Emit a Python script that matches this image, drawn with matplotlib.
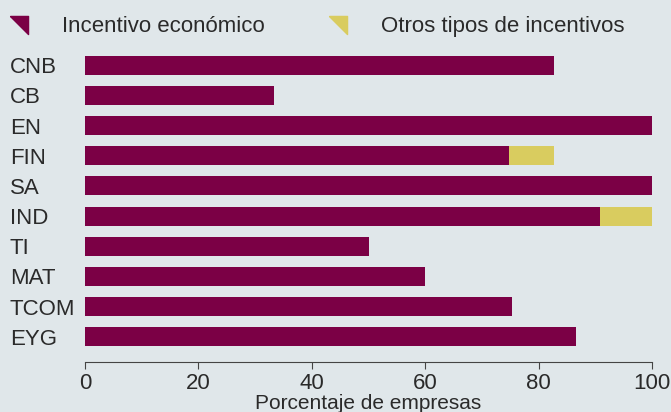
import numpy as np
import matplotlib.pyplot as plt
from matplotlib.lines import Line2D

plt.rcParams['font.family'] = ['Liberation Sans', 'DejaVu Sans']

# === Datos ===
sectores = ['CNB', 'CB', 'EN', 'FIN', 'SA', 'IND', 'TI', 'MAT', 'TCOM', 'EYG']
economico = [82.7, 33.3, 100, 74.7, 100, 90.8, 50, 60, 75.3, 86.6]
otros = [0, 0, 0, 8.0, 0, 9.2, 0, 0, 0, 0]

fondo = '#e0e7ea'
granate = '#7b0045'
amarillo = '#d9cc5f'
texto = '#2a2a2a'

fig = plt.figure(figsize=(6.71, 4.12), dpi=100, facecolor=fondo)
ax = fig.add_axes([85 / 671, 1 - 352 / 412, (652 - 85) / 671, 302 / 412])
ax.set_facecolor(fondo)

y = np.arange(len(sectores))
ax.barh(y, economico, height=0.63, color=granate)
ax.barh(y, otros, left=economico, height=0.63, color=amarillo)

ax.set_xlim(0, 100)
ax.set_ylim(len(sectores) - 0.5, -0.5)
ax.set_yticks(y)
ax.set_yticklabels(sectores, ha='left', fontsize=16, color=texto)
ax.tick_params(axis='y', length=0, pad=54)
ax.set_xticks([0, 20, 40, 60, 80, 100])
ax.tick_params(axis='x', labelsize=16, colors='#444444', labelcolor=texto,
               length=5, width=0.8, pad=3)
ax.set_xlabel('Porcentaje de empresas', fontsize=15, color=texto, labelpad=0)

for s in ['top', 'right', 'left']:
    ax.spines[s].set_visible(False)
ax.spines['bottom'].set_position(('outward', 7))
ax.spines['bottom'].set_color('#444444')
ax.spines['bottom'].set_linewidth(0.8)

# marcador triangular
tri = [(-1, 1), (1, 1), (1, -1), (-1, 1)]
handles = [
    Line2D([], [], linestyle='none', marker=tri, markersize=13, color=granate),
    Line2D([], [], linestyle='none', marker=tri, markersize=13, color=amarillo),
]
fig.legend(handles, ['Incentivo económico', 'Otros tipos de incentivos'],
           loc='upper left', bbox_to_anchor=(-0.0186, 1.009), ncol=2, frameon=False,
           fontsize=16, handlelength=1.0, handletextpad=1.45, columnspacing=2.8,
           labelcolor=texto)

fig.savefig('out.png', dpi=100, facecolor=fondo)
